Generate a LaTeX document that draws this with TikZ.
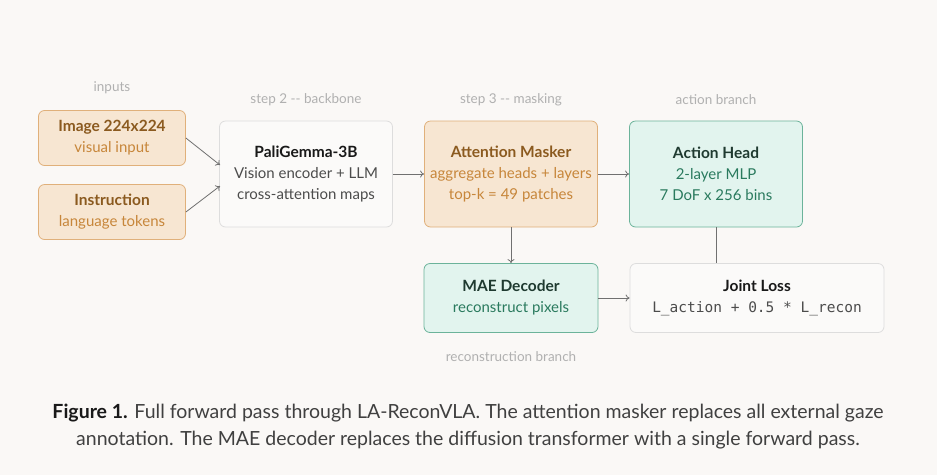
\documentclass[tikz,border=0pt]{standalone}
\usepackage{fontspec}
\setmainfont{Lato}
\setmonofont{DejaVu Sans Mono}
\usetikzlibrary{arrows.meta}
\definecolor{bg}{HTML}{FAF8F6}
\definecolor{ofill}{HTML}{F7E6D2}
\definecolor{odraw}{HTML}{E0B07A}
\definecolor{otit}{HTML}{8B5A1F}
\definecolor{osub}{HTML}{C7863A}
\definecolor{tfill}{HTML}{E2F4EE}
\definecolor{tdraw}{HTML}{6BB39A}
\definecolor{ttit}{HTML}{1F3A30}
\definecolor{tsub}{HTML}{2A7A5E}
\definecolor{wfill}{HTML}{FBFAF9}
\definecolor{wdraw}{HTML}{DDDDDD}
\definecolor{lab}{HTML}{B0B0B0}
\definecolor{ar}{HTML}{707070}
\begin{document}
\begin{tikzpicture}[x=1pt,y=-1pt,
 box/.style={rounded corners=6pt,line width=0.8pt,align=center,inner sep=0pt,font=\fontsize{15}{21}\selectfont},
 obox/.style={box,fill=ofill,draw=odraw,text=osub},
 tbox/.style={box,fill=tfill,draw=tdraw,text=tsub},
 wbox/.style={box,fill=wfill,draw=wdraw,text=black!70},
 tit/.style={},
 lbl/.style={text=lab,font=\fontsize{13.5}{15}\selectfont},
 arr/.style={draw=ar,line width=0.8pt,-{To[length=4pt,width=7pt]}}]
\fill[bg] (0,0) rectangle (937,475);
\node[obox,minimum width=147pt,minimum height=55pt] (img) at (112,138) {{\fontsize{15.5}{21}\selectfont\bfseries\color{otit}Image 224x224}\\visual input};
\node[obox,minimum width=147pt,minimum height=55pt] (ins) at (112,212) {{\fontsize{15.5}{21}\selectfont\bfseries\color{otit}Instruction}\\language tokens};
\node[wbox,minimum width=173pt,minimum height=106pt] (pg) at (306,174) {{\fontsize{15.5}{23}\selectfont\bfseries\color{black!90}PaliGemma-3B}\\Vision encoder + LLM\\cross-attention maps};
\node[obox,minimum width=173pt,minimum height=106pt] (am) at (511,174) {{\fontsize{15.5}{23}\selectfont\bfseries\color{otit}Attention Masker}\\aggregate heads + layers\\top-k = 49 patches};
\node[tbox,minimum width=173pt,minimum height=106pt] (ah) at (716,174) {{\fontsize{15.5}{23}\selectfont\bfseries\color{ttit}Action Head}\\2-layer MLP\\7 DoF x 256 bins};
\node[tbox,minimum width=174pt,minimum height=69pt] (mae) at (511,298) {{\fontsize{15.5}{23}\selectfont\bfseries\color{ttit}MAE Decoder}\\reconstruct pixels};
\node[wbox,minimum width=254pt,minimum height=69pt] (jl) at (757,298) {{\fontsize{15.5}{23}\selectfont\bfseries\color{black!90}Joint Loss}\\{\ttfamily\fontsize{14.5}{21}\selectfont L\_action + 0.5 * L\_recon}};
\node[lbl] (l1) at (112,88) {inputs};
\node[lbl] (l2) at (306,100) {step 2 -{}- backbone};
\node[lbl] (l3) at (511,100) {step 3 -{}- masking};
\node[lbl] (l4) at (716,100) {action branch};
\node[lbl] (l5) at (511,357) {reconstruction branch};
\coordinate (p1) at (220,165);
\coordinate (p2) at (220,186);
\draw[arr] (img.east |- 0,138) -- (p1);
\draw[arr] (ins.east |- 0,212) -- (p2);
\draw[arr] (pg) -- (am);
\draw[arr] (am) -- (ah);
\draw[arr] (am) -- (mae);
\draw[arr] (mae) -- (jl);
\draw[draw=ar,line width=0.8pt] (ah.south) -- (ah.south |- jl.north);
\node[font=\fontsize{19.5}{27}\selectfont,text=black!75,align=center] (cap) at (468,427) {{\bfseries\color{black!90}Figure 1.} Full forward pass through LA-ReconVLA. The attention masker replaces all external gaze\\annotation. The MAE decoder replaces the diffusion transformer with a single forward pass.};
\end{tikzpicture}
\end{document}
